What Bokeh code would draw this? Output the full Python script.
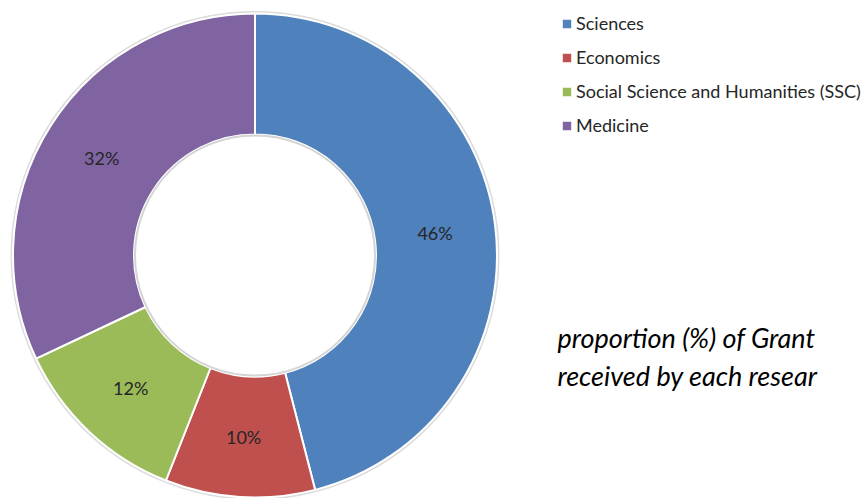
import numpy as np
from bokeh.plotting import figure
from bokeh.models import ColumnDataSource, Range1d, Label
from bokeh.core.properties import value
from bokeh.embed import file_html
from bokeh.resources import INLINE

# ---- data ----
categories = ["Sciences", "Economics", "Social Science and Humanities (SSC)", "Medicine"]
shares = [46, 10, 12, 32]
colors = ["#4F81BD", "#C0504D", "#9BBB59", "#8064A2"]
note_lines = ["proportion (%) of Grant", "received by each resear"]

# ---- geometry (pixel-like data units) ----
W, H = 861, 498
cx, cy = 254.5, H - 255.0
r_in, r_out = 121.0, 242.0

vals = np.array(shares, dtype=float)
frac = vals / vals.sum()
cum_end = np.cumsum(frac)
cum_start = cum_end - frac
start = np.pi / 2 - 2 * np.pi * cum_start
end = np.pi / 2 - 2 * np.pi * cum_end
mid = 2 * np.pi * (cum_start + cum_end) / 2
r_lab = (r_in + r_out) / 2

src = ColumnDataSource(dict(
    category=categories, start=start, end=end, color=colors,
    lx=cx + r_lab * np.sin(mid), ly=cy + r_lab * np.cos(mid),
    label=[f"{v}%" for v in shares],
))

p = figure(width=W, height=H, x_range=Range1d(0, W), y_range=Range1d(0, H),
           output_backend="svg", toolbar_location=None, min_border=0,
           x_axis_type=None, y_axis_type=None)
p.grid.visible = False
p.outline_line_color = None
p.background_fill_color = "white"
p.border_fill_color = "white"

# subtle shadow rings
p.circle(x=cx, y=cy, radius=r_out + 1.5, fill_color=None, line_color="#dcdcdc", line_width=2)

p.annular_wedge(x=cx, y=cy, inner_radius=r_in, outer_radius=r_out,
                start_angle="start", end_angle="end", direction="clock",
                fill_color="color", line_color="white", line_width=2,
                legend_field="category", source=src)

p.circle(x=cx, y=cy, radius=r_in - 1, fill_color=None, line_color="#d4d4d4", line_width=2)

p.text(x="lx", y="ly", text="label", source=src, text_align="center",
       text_baseline="middle", text_font=value("Lato"), text_font_size="18px",
       text_color="#262626")

leg = p.legend[0]
leg.border_line_color = None
leg.background_fill_alpha = 0
leg.label_text_font = "Lato"
leg.label_text_font_size = "18px"
leg.label_text_color = "#262626"
leg.glyph_width = 13
leg.glyph_height = 13
leg.label_height = 22
leg.label_standoff = 3
leg.spacing = 12
leg.padding = 0
leg.margin = 0
leg_h = 4 * 22 + 3 * 12
leg.location = (560, H - 12 - leg_h)

for i, t in enumerate(note_lines):
    p.add_layout(Label(x=557, y=H - 337 - 38 * i, text=t, text_font="Lato",
                       text_font_style="italic", text_font_size="27px",
                       text_color="black", text_baseline="alphabetic"))

open("out.html", "w").write(file_html(p, INLINE))
